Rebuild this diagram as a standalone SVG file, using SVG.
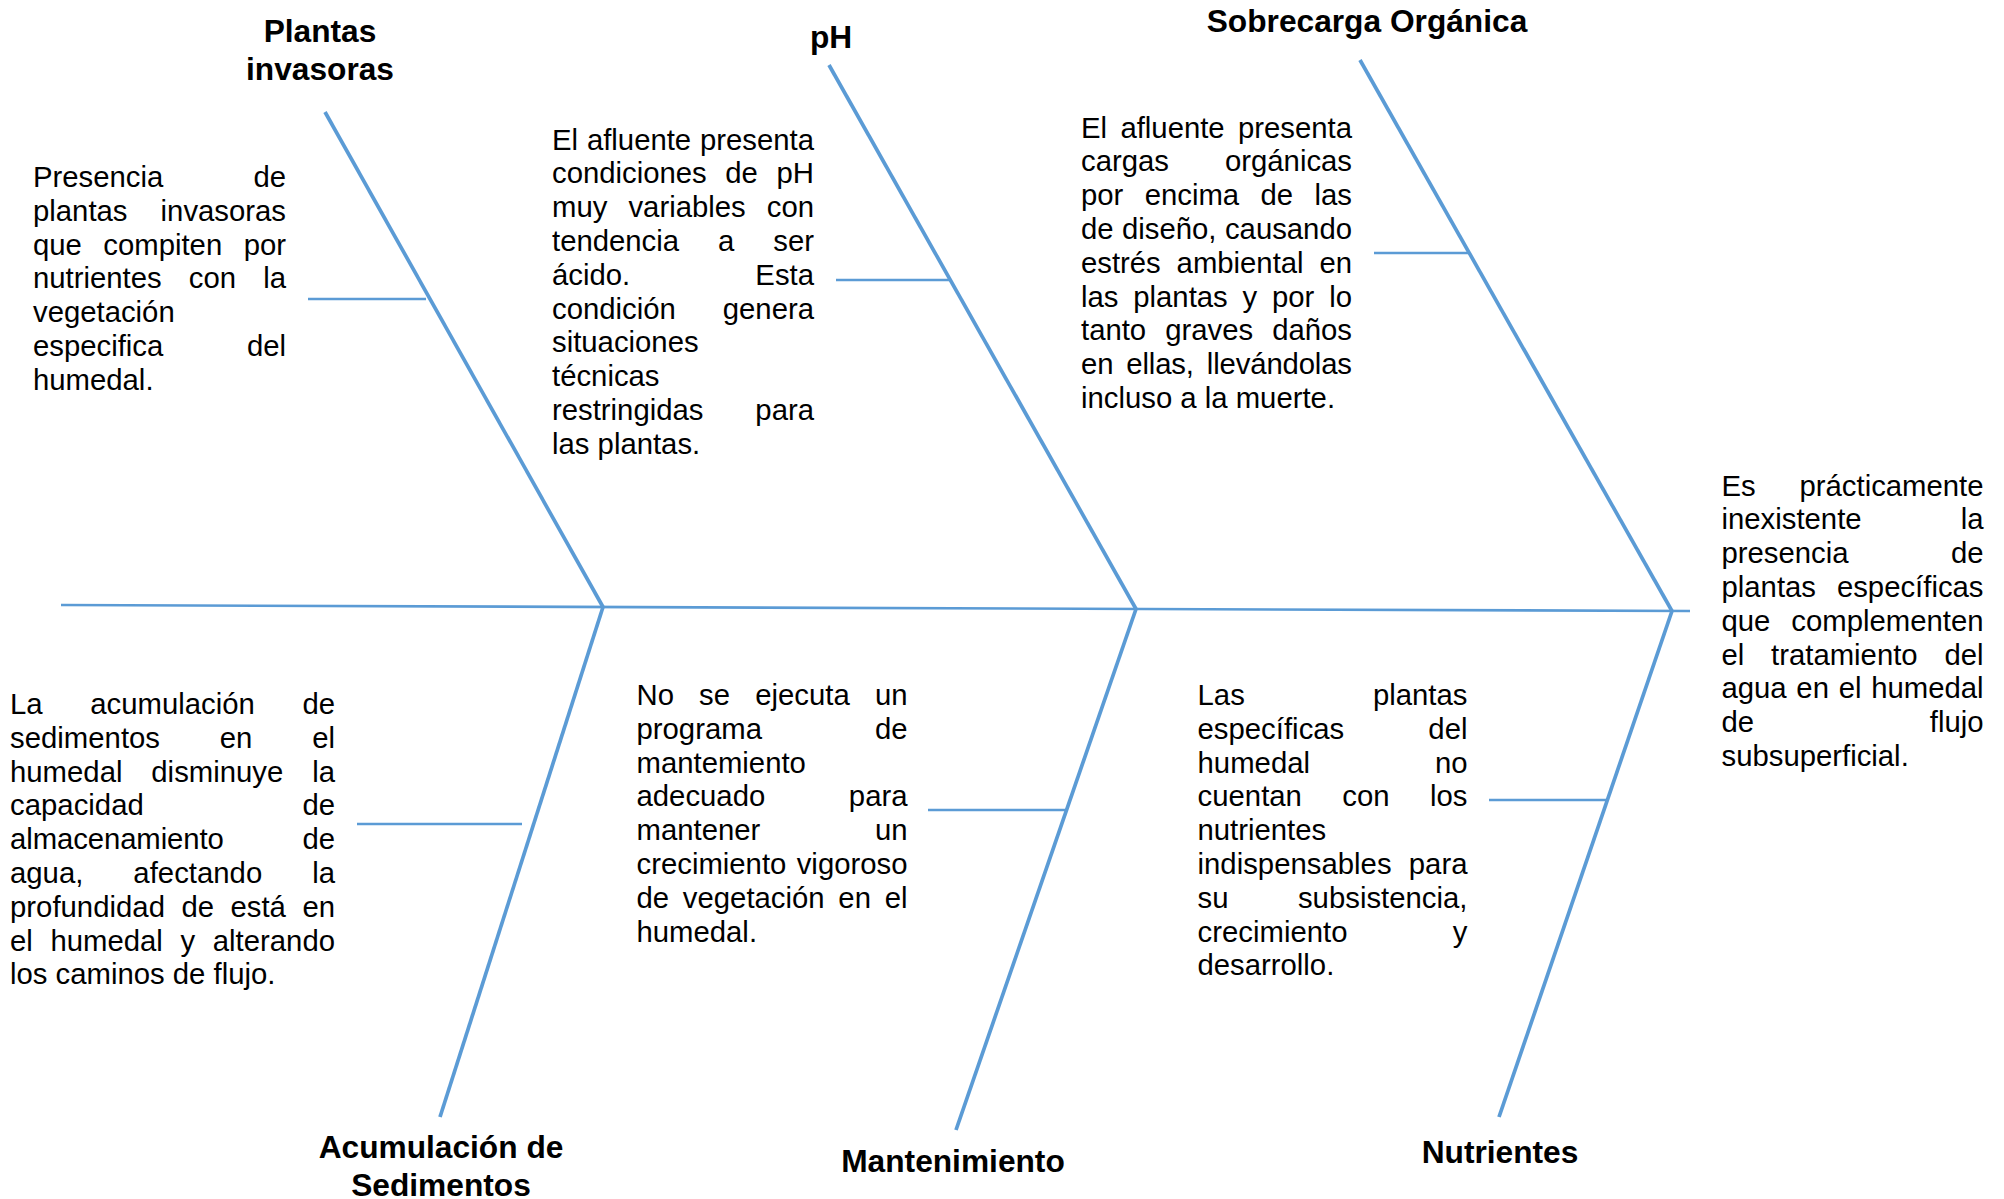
<svg xmlns="http://www.w3.org/2000/svg" width="2004" height="1199" viewBox="0 0 2004 1199">
  <style>
    .bone{stroke:#5B9BD5;stroke-width:3.7;fill:none}
    .spine{stroke:#5B9BD5;stroke-width:2.6;fill:none}
    .tick{stroke:#5B9BD5;stroke-width:2.5;fill:none}
    .t{font-family:"Liberation Sans",Arial,sans-serif;font-size:29.3px;fill:#000}
    .h{font-family:"Liberation Sans",Arial,sans-serif;font-size:31.7px;font-weight:bold;text-anchor:middle;fill:#000}
  </style>
  <rect width="2004" height="1199" fill="#fff"/>

  <!-- spine, bones and sub-branches -->
  <g id="connectors">
    <path class="spine" d="M61,605 L1690,611"/>
    <path class="bone" d="M325,112 L603,607"/>
    <path class="bone" d="M829,65 L1136,609"/>
    <path class="bone" d="M1360,60 L1672,611"/>
    <path class="bone" d="M603,607 L440,1117"/>
    <path class="bone" d="M1136,609 L956,1130"/>
    <path class="bone" d="M1672,611 L1499,1117"/>
    <path class="tick" d="M308,299 L426,299"/>
    <path class="tick" d="M836,280 L950,280"/>
    <path class="tick" d="M1374,253 L1469,253"/>
    <path class="tick" d="M357,824 L522,824"/>
    <path class="tick" d="M928,810 L1066,810"/>
    <path class="tick" d="M1489,800 L1607,800"/>
  </g>

  <g id="cat-plantas-invasoras">
    <text class="h" x="320" y="42">Plantas</text>
    <text class="h" x="320" y="80">invasoras</text>
    <text class="t" x="33" y="187" textLength="253" lengthAdjust="spacing" word-spacing="82">Presencia de</text>
    <text class="t" x="33" y="220.8" textLength="253" lengthAdjust="spacing" word-spacing="25">plantas invasoras</text>
    <text class="t" x="33" y="254.6" textLength="253" lengthAdjust="spacing" word-spacing="13.3">que compiten por</text>
    <text class="t" x="33" y="288.4" textLength="253" lengthAdjust="spacing" word-spacing="19">nutrientes con la</text>
    <text class="t" x="33" y="322.2">vegetación</text>
    <text class="t" x="33" y="356" textLength="253" lengthAdjust="spacing" word-spacing="75.5">especifica del</text>
    <text class="t" x="33" y="389.8">humedal.</text>
  </g>

  <g id="cat-ph">
    <text class="h" x="831" y="48">pH</text>
    <text class="t" x="552" y="149.5" textLength="262" lengthAdjust="spacing" word-spacing="0.7">El afluente presenta</text>
    <text class="t" x="552" y="183.3" textLength="262" lengthAdjust="spacing" word-spacing="10.5">condiciones de pH</text>
    <text class="t" x="552" y="217.1" textLength="262" lengthAdjust="spacing" word-spacing="13">muy variables con</text>
    <text class="t" x="552" y="250.9" textLength="262" lengthAdjust="spacing" word-spacing="30.8">tendencia a ser</text>
    <text class="t" x="552" y="284.7" textLength="262" lengthAdjust="spacing" word-spacing="117">ácido. Esta</text>
    <text class="t" x="552" y="318.5" textLength="262" lengthAdjust="spacing" word-spacing="38.9">condición genera</text>
    <text class="t" x="552" y="352.3">situaciones</text>
    <text class="t" x="552" y="386.1">técnicas</text>
    <text class="t" x="552" y="419.9" textLength="262" lengthAdjust="spacing" word-spacing="43.8">restringidas para</text>
    <text class="t" x="552" y="453.7">las plantas.</text>
  </g>

  <g id="cat-sobrecarga-organica">
    <text class="h" x="1367" y="31.5">Sobrecarga Orgánica</text>
    <text class="t" x="1081" y="137.5" textLength="271" lengthAdjust="spacing" word-spacing="5.2">El afluente presenta</text>
    <text class="t" x="1081" y="171.3" textLength="271" lengthAdjust="spacing" word-spacing="47.9">cargas orgánicas</text>
    <text class="t" x="1081" y="205.1" textLength="271" lengthAdjust="spacing" word-spacing="13.3">por encima de las</text>
    <text class="t" x="1081" y="238.9" textLength="271" lengthAdjust="spacing" word-spacing="0.3">de diseño, causando</text>
    <text class="t" x="1081" y="272.7" textLength="271" lengthAdjust="spacing" word-spacing="7.7">estrés ambiental en</text>
    <text class="t" x="1081" y="306.5" textLength="271" lengthAdjust="spacing" word-spacing="6.7">las plantas y por lo</text>
    <text class="t" x="1081" y="340.3" textLength="271" lengthAdjust="spacing" word-spacing="10.9">tanto graves daños</text>
    <text class="t" x="1081" y="374.1" textLength="271" lengthAdjust="spacing" word-spacing="5">en ellas, llevándolas</text>
    <text class="t" x="1081" y="407.9">incluso a la muerte.</text>
  </g>

  <g id="effect">
    <text class="t" x="1721.5" y="495.5" textLength="262" lengthAdjust="spacing" word-spacing="35.7">Es prácticamente</text>
    <text class="t" x="1721.5" y="529.3" textLength="262" lengthAdjust="spacing" word-spacing="91">inexistente la</text>
    <text class="t" x="1721.5" y="563.1" textLength="262" lengthAdjust="spacing" word-spacing="94.3">presencia de</text>
    <text class="t" x="1721.5" y="596.9" textLength="262" lengthAdjust="spacing" word-spacing="12.8">plantas específicas</text>
    <text class="t" x="1721.5" y="630.7" textLength="262" lengthAdjust="spacing" word-spacing="12.8">que complementen</text>
    <text class="t" x="1721.5" y="664.5" textLength="262" lengthAdjust="spacing" word-spacing="18.6">el tratamiento del</text>
    <text class="t" x="1721.5" y="698.3" textLength="262" lengthAdjust="spacing" word-spacing="1.6">agua en el humedal</text>
    <text class="t" x="1721.5" y="732.1" textLength="262" lengthAdjust="spacing" word-spacing="167.5">de flujo</text>
    <text class="t" x="1721.5" y="765.9">subsuperficial.</text>
  </g>

  <g id="cat-acumulacion-sedimentos">
    <text class="h" x="441" y="1157.6">Acumulación de</text>
    <text class="h" x="441" y="1196">Sedimentos</text>
    <text class="t" x="10" y="714" textLength="325" lengthAdjust="spacing" word-spacing="39.4">La acumulación de</text>
    <text class="t" x="10" y="747.8" textLength="325" lengthAdjust="spacing" word-spacing="51.6">sedimentos en el</text>
    <text class="t" x="10" y="781.6" textLength="325" lengthAdjust="spacing" word-spacing="20.7">humedal disminuye la</text>
    <text class="t" x="10" y="815.4" textLength="325" lengthAdjust="spacing" word-spacing="150.4">capacidad de</text>
    <text class="t" x="10" y="849.2" textLength="325" lengthAdjust="spacing" word-spacing="70.7">almacenamiento de</text>
    <text class="t" x="10" y="883" textLength="325" lengthAdjust="spacing" word-spacing="41.8">agua, afectando la</text>
    <text class="t" x="10" y="916.8" textLength="325" lengthAdjust="spacing" word-spacing="8.3">profundidad de está en</text>
    <text class="t" x="10" y="950.6" textLength="325" lengthAdjust="spacing" word-spacing="9.4">el humedal y alterando</text>
    <text class="t" x="10" y="984.4">los caminos de flujo.</text>
  </g>

  <g id="cat-mantenimiento">
    <text class="h" x="953" y="1171.6">Mantenimiento</text>
    <text class="t" x="636.5" y="705" textLength="271" lengthAdjust="spacing" word-spacing="17">No se ejecuta un</text>
    <text class="t" x="636.5" y="738.8" textLength="271" lengthAdjust="spacing" word-spacing="104.8">programa de</text>
    <text class="t" x="636.5" y="772.6">mantemiento</text>
    <text class="t" x="636.5" y="806.4" textLength="271" lengthAdjust="spacing" word-spacing="75.4">adecuado para</text>
    <text class="t" x="636.5" y="840.2" textLength="271" lengthAdjust="spacing" word-spacing="106.4">mantener un</text>
    <text class="t" x="636.5" y="874" textLength="271" lengthAdjust="spacing" word-spacing="2.2">crecimiento vigoroso</text>
    <text class="t" x="636.5" y="907.8" textLength="271" lengthAdjust="spacing" word-spacing="5.6">de vegetación en el</text>
    <text class="t" x="636.5" y="941.6">humedal.</text>
  </g>

  <g id="cat-nutrientes">
    <text class="h" x="1500" y="1162.7">Nutrientes</text>
    <text class="t" x="1197.5" y="705" textLength="270" lengthAdjust="spacing" word-spacing="119.9">Las plantas</text>
    <text class="t" x="1197.5" y="738.8" textLength="270" lengthAdjust="spacing" word-spacing="75.9">específicas del</text>
    <text class="t" x="1197.5" y="772.6" textLength="270" lengthAdjust="spacing" word-spacing="116.6">humedal no</text>
    <text class="t" x="1197.5" y="806.4" textLength="270" lengthAdjust="spacing" word-spacing="32.2">cuentan con los</text>
    <text class="t" x="1197.5" y="840.2">nutrientes</text>
    <text class="t" x="1197.5" y="874" textLength="270" lengthAdjust="spacing" word-spacing="9.1">indispensables para</text>
    <text class="t" x="1197.5" y="907.8" textLength="270" lengthAdjust="spacing" word-spacing="61.3">su subsistencia,</text>
    <text class="t" x="1197.5" y="941.6" textLength="270" lengthAdjust="spacing" word-spacing="97.1">crecimiento y</text>
    <text class="t" x="1197.5" y="975.4">desarrollo.</text>
  </g>
</svg>
